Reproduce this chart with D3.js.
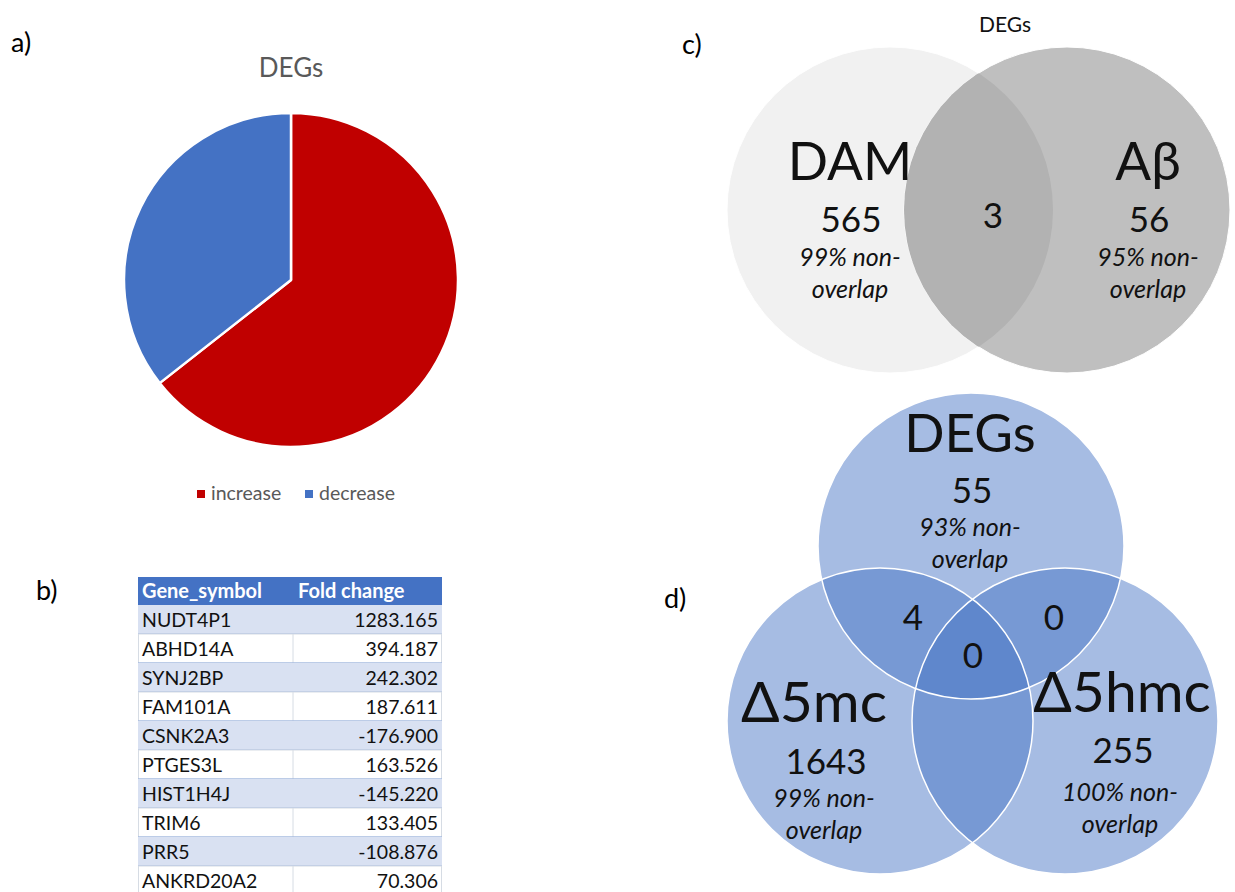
<!DOCTYPE html>
<html>
<head>
<meta charset="utf-8">
<script src="https://cdn.jsdelivr.net/npm/d3@7"></script>
<style>
  html, body { margin: 0; padding: 0; background: #fff; }
  svg { display: block; font-family: Lato, "Open Sans", sans-serif; }
</style>
</head>
<body>
<svg id="fig" width="1235" height="892"></svg>
<script>
// ---- data ----
const pieCategories = ["increase", "decrease"];
const pieValues = [38, 21];
const pieColors = ["#C00000", "#4472C4"];

const geneSymbols = ["NUDT4P1", "ABHD14A", "SYNJ2BP", "FAM101A", "CSNK2A3",
                     "PTGES3L", "HIST1H4J", "TRIM6", "PRR5", "ANKRD20A2"];
const foldChanges = [1283.165, 394.187, 242.302, 187.611, -176.900,
                     163.526, -145.220, 133.405, -108.876, 70.306];
const tableHeaders = ["Gene_symbol", "Fold change"];

const vennCSets = ["DAM", "Aβ"];
const vennCUnique = [565, 56];
const vennCShared = 3;
const vennCPct = ["99%", "95%"];

const vennDSets = ["DEGs", "Δ5mc", "Δ5hmc"];
const vennDUnique = [55, 1643, 255];
const vennDPairs = [4, 0];      // DEGs∩Δ5mc, DEGs∩Δ5hmc
const vennDCore = 0;            // all three
const vennDPct = ["93%", "99%", "100%"];

const svg = d3.select("#fig");
const fmt = d3.formatLocale({decimal: ".", thousands: ",", grouping: [3], currency: ["", ""], minus: "-"}).format(".3f");

// panel letters
const letters = [["a)", 11, 52], ["b)", 36, 600], ["c)", 682, 54], ["d)", 664, 608]];
svg.selectAll("text.letter").data(letters).join("text")
  .attr("class", "letter")
  .attr("x", d => d[1]).attr("y", d => d[2])
  .attr("font-size", 27).attr("fill", "#000")
  .text(d => d[0]);

// ---- a) pie ----
const pieG = svg.append("g").attr("transform", "translate(291,280)");
const pie = d3.pie().sort(null).value(d => d.v).startAngle(0).endAngle(2 * Math.PI);
const arc = d3.arc().innerRadius(0).outerRadius(167);
const pieData = pie(pieCategories.map((c, i) => ({c, v: pieValues[i]})));
pieG.selectAll("path").data(pieData).join("path")
  .attr("d", arc)
  .attr("fill", (d, i) => pieColors[i])
  .attr("stroke", "#fff").attr("stroke-width", 2.5).attr("stroke-linejoin", "round");

svg.append("text").attr("x", 291).attr("y", 77)
  .attr("text-anchor", "middle").attr("font-size", 26).attr("fill", "#595959")
  .text("DEGs");

const legendX = [197, 305];
const leg = svg.selectAll("g.leg").data(pieCategories).join("g")
  .attr("class", "leg")
  .attr("transform", (d, i) => `translate(${legendX[i]},490)`);
leg.append("rect").attr("width", 8).attr("height", 8).attr("fill", (d, i) => pieColors[i]);
leg.append("text").attr("x", 14).attr("y", 10).attr("font-size", 19.5).attr("fill", "#595959").text(d => d);

// ---- b) table ----
const tLeft = 138, tMid = 293, tRight = 442, headTop = 577, headH = 28, rowH = 29;
const y = d3.scaleBand().domain(d3.range(geneSymbols.length))
  .range([headTop + headH, headTop + headH + rowH * geneSymbols.length]).padding(0);

svg.append("rect").attr("x", tLeft).attr("y", headTop).attr("width", tRight - tLeft).attr("height", headH)
  .attr("fill", "#4472C4");
svg.selectAll("text.th").data(tableHeaders).join("text")
  .attr("class", "th")
  .attr("x", (d, i) => i === 0 ? tLeft + 4 : tMid + 5)
  .attr("y", headTop + 21)
  .attr("font-size", 20).attr("font-weight", "bold").attr("fill", "#fff")
  .text(d => d);

const rows = svg.selectAll("g.row").data(geneSymbols).join("g")
  .attr("class", "row")
  .attr("transform", (d, i) => `translate(0,${y(i)})`);
rows.append("rect").attr("x", tLeft).attr("width", tRight - tLeft).attr("height", y.bandwidth())
  .attr("fill", (d, i) => i % 2 === 0 ? "#D9E1F2" : "#fff");
rows.filter((d, i) => i % 2 === 1).append("line")
  .attr("x1", tMid).attr("x2", tMid).attr("y1", 0).attr("y2", y.bandwidth())
  .attr("stroke", "#D6DCE4").attr("stroke-width", 1);
rows.filter((d, i) => i % 2 === 1).append("rect")
  .attr("x", tLeft + 0.5).attr("width", tRight - tLeft - 1).attr("height", y.bandwidth())
  .attr("fill", "none").attr("stroke", "#D6DCE4");
rows.append("line").attr("x1", tLeft).attr("x2", tRight).attr("y1", y.bandwidth()).attr("y2", y.bandwidth())
  .attr("stroke", "#8EA9DB").attr("stroke-width", 1.2);
rows.append("text").attr("x", tLeft + 4).attr("y", 22)
  .attr("font-size", 19.5).attr("fill", "#111").text(d => d);
rows.append("text").attr("x", tRight - 4).attr("y", 22).attr("text-anchor", "end")
  .attr("font-size", 19.5).attr("fill", "#111").text((d, i) => fmt(foldChanges[i]));

// ---- c) two-set Venn ----
const cR = 163;
const cCircles = [{x: 890, y: 210, fill: "#F1F1F1"}, {x: 1067, y: 210, fill: "#BFBFBF"}];
const defs = svg.append("defs");
defs.append("clipPath").attr("id", "clipC0")
  .append("circle").attr("cx", cCircles[0].x).attr("cy", cCircles[0].y).attr("r", cR);
svg.selectAll("circle.vc").data(cCircles).join("circle")
  .attr("class", "vc")
  .attr("cx", d => d.x).attr("cy", d => d.y).attr("r", cR)
  .attr("fill", d => d.fill).attr("stroke", "#fff").attr("stroke-width", 1);
svg.append("circle").attr("clip-path", "url(#clipC0)")
  .attr("cx", cCircles[1].x).attr("cy", cCircles[1].y).attr("r", cR)
  .attr("fill", "#B2B2B2");

svg.append("text").attr("x", 1005).attr("y", 32).attr("text-anchor", "middle")
  .attr("font-size", 21).attr("fill", "#111").text("DEGs");

const cLabelX = [850, 1148];
const cText = svg.append("g").attr("text-anchor", "middle").attr("fill", "#111");
cLabelX.forEach((x, i) => {
  cText.append("text").attr("x", x).attr("y", 180).attr("font-size", 53).text(vennCSets[i]);
  cText.append("text").attr("x", x + 1).attr("y", 232).attr("font-size", 35).text(vennCUnique[i]);
  cText.append("text").attr("x", x).attr("y", 266).attr("font-size", 25).attr("font-style", "italic").text(vennCPct[i] + " non-");
  cText.append("text").attr("x", x).attr("y", 298).attr("font-size", 25).attr("font-style", "italic").text("overlap");
});
cText.append("text").attr("x", 993).attr("y", 228).attr("font-size", 35).text(vennCShared);

// ---- d) three-set Venn ----
const dR = 153;
const dCircles = [{x: 971, y: 546}, {x: 880, y: 721}, {x: 1065, y: 721}];
svg.selectAll("circle.vd").data(dCircles).join("circle")
  .attr("class", "vd")
  .attr("cx", d => d.x).attr("cy", d => d.y).attr("r", dR)
  .attr("fill", "#4472C4").attr("fill-opacity", 0.48);
svg.selectAll("circle.vdo").data(dCircles).join("circle")
  .attr("class", "vdo")
  .attr("cx", d => d.x).attr("cy", d => d.y).attr("r", dR)
  .attr("fill", "none").attr("stroke", "#fff").attr("stroke-width", 1.5);

const dText = svg.append("g").attr("text-anchor", "middle").attr("fill", "#111");
const dLabels = [
  {x: 970, size: 53, name: 452, numX: 972, num: 503, pX: 970, p1: 536, p2: 568},
  {x: 814, size: 57, name: 722, numX: 826, num: 774, pX: 824, p1: 807, p2: 839},
  {x: 1122, size: 57, name: 712, numX: 1123, num: 763, pX: 1120, p1: 801, p2: 833}
];
dLabels.forEach((L, i) => {
  dText.append("text").attr("x", L.x).attr("y", L.name).attr("font-size", L.size).text(vennDSets[i]);
  dText.append("text").attr("x", L.numX).attr("y", L.num).attr("font-size", 35).text(vennDUnique[i]);
  dText.append("text").attr("x", L.pX).attr("y", L.p1).attr("font-size", 25).attr("font-style", "italic").text(vennDPct[i] + " non-");
  dText.append("text").attr("x", L.pX).attr("y", L.p2).attr("font-size", 25).attr("font-style", "italic").text("overlap");
});
dText.append("text").attr("x", 913).attr("y", 630).attr("font-size", 35).text(vennDPairs[0]);
dText.append("text").attr("x", 1054).attr("y", 630).attr("font-size", 35).text(vennDPairs[1]);
dText.append("text").attr("x", 973).attr("y", 668).attr("font-size", 35).text(vennDCore);
</script>
</body>
</html>
